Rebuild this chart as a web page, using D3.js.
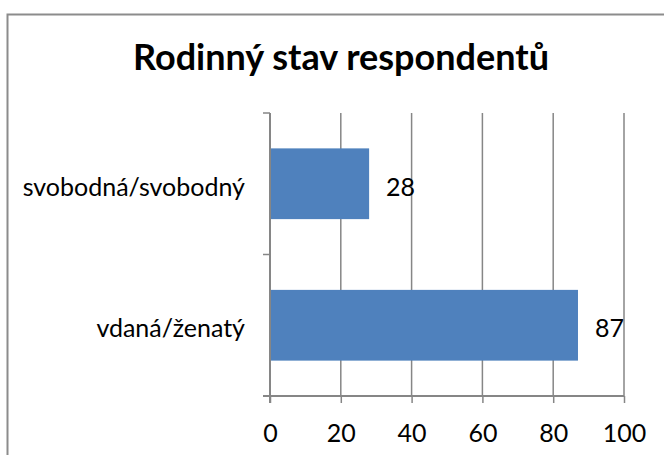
<!DOCTYPE html>
<html>
<head>
<meta charset="utf-8">
<script src="https://cdn.jsdelivr.net/npm/d3@7"></script>
<style>
  body { margin: 0; background: #fff; }
  text { font-family: Lato, "Open Sans", sans-serif; fill: #000; }
</style>
</head>
<body>
<svg id="chart" width="664" height="455"></svg>
<script>
// chart data
var categories = ["svobodná/svobodný", "vdaná/ženatý"];
var values = [28, 87];
var xTicks = [0, 20, 40, 60, 80, 100];
var chartTitle = "Rodinný stav respondentů";

var svg = d3.select("#chart");
var W = 664, H = 455;
var plot = {left: 270, right: 624, top: 113, bottom: 396};
var gray = "#868686";

// outer frame
svg.append("rect")
  .attr("x", 7.5).attr("y", 14.5)
  .attr("width", W).attr("height", H)
  .attr("fill", "#fff")
  .attr("stroke", "#8c8c8c")
  .attr("stroke-width", 2);

var x = d3.scaleLinear().domain([0, 100]).range([plot.left, plot.right]);
var y = d3.scaleBand().domain(categories).range([plot.top, plot.bottom]).paddingInner(0.5).paddingOuter(0.25);

// gridlines
svg.append("g").selectAll("line.grid")
  .data(xTicks.slice(1))
  .join("line")
  .classed("grid", true)
  .attr("x1", d => x(d)).attr("x2", d => x(d))
  .attr("y1", plot.top).attr("y2", plot.bottom)
  .attr("stroke", gray).attr("stroke-width", 1.5);

// bars
svg.append("g").selectAll("rect.bar")
  .data(categories)
  .join("rect")
  .classed("bar", true)
  .attr("x", x(0))
  .attr("y", d => y(d))
  .attr("width", (d, i) => x(values[i]) - x(0))
  .attr("height", y.bandwidth())
  .attr("fill", "#4f81bd");

// value labels
svg.append("g").selectAll("text.val")
  .data(categories)
  .join("text")
  .classed("val", true)
  .attr("x", (d, i) => x(values[i]) + 17)
  .attr("y", d => y(d) + y.bandwidth() / 2 + 12)
  .style("font-size", "25px")
  .text((d, i) => values[i]);

// x axis
var xAxis = d3.axisBottom(x).tickValues(xTicks).tickSize(7).tickPadding(21);
var gx = svg.append("g")
  .attr("transform", "translate(0," + plot.bottom + ")")
  .call(xAxis);
gx.select(".domain").remove();
gx.append("line")
  .attr("x1", plot.left - 7).attr("x2", plot.right)
  .attr("stroke", gray).attr("stroke-width", 2);
gx.selectAll(".tick line").attr("stroke", gray).attr("stroke-width", 1.5);
gx.selectAll(".tick text")
  .style("font-family", "Lato, sans-serif")
  .style("font-size", "25px")
  .attr("fill", "#000");

// y axis: ticks at category boundaries
var bounds = [plot.top, (plot.top + plot.bottom) / 2, plot.bottom];
var gy = svg.append("g");
gy.append("line")
  .attr("x1", plot.left).attr("x2", plot.left)
  .attr("y1", plot.top).attr("y2", plot.bottom + 7)
  .attr("stroke", gray).attr("stroke-width", 2);
gy.selectAll("line.ytick")
  .data(bounds)
  .join("line")
  .classed("ytick", true)
  .attr("x1", plot.left - 7).attr("x2", plot.left)
  .attr("y1", d => d).attr("y2", d => d)
  .attr("stroke", gray).attr("stroke-width", 1.5);

gy.selectAll("text.cat")
  .data(categories)
  .join("text")
  .classed("cat", true)
  .attr("x", plot.left - 25)
  .attr("y", d => y(d) + y.bandwidth() / 2 + 12)
  .attr("text-anchor", "end")
  .style("font-size", "25px")
  .text(d => d);

// title
svg.append("text")
  .attr("x", 341)
  .attr("y", 70)
  .attr("text-anchor", "middle")
  .style("font-size", "36px")
  .style("font-weight", "bold")
  .text(chartTitle);
</script>
</body>
</html>
